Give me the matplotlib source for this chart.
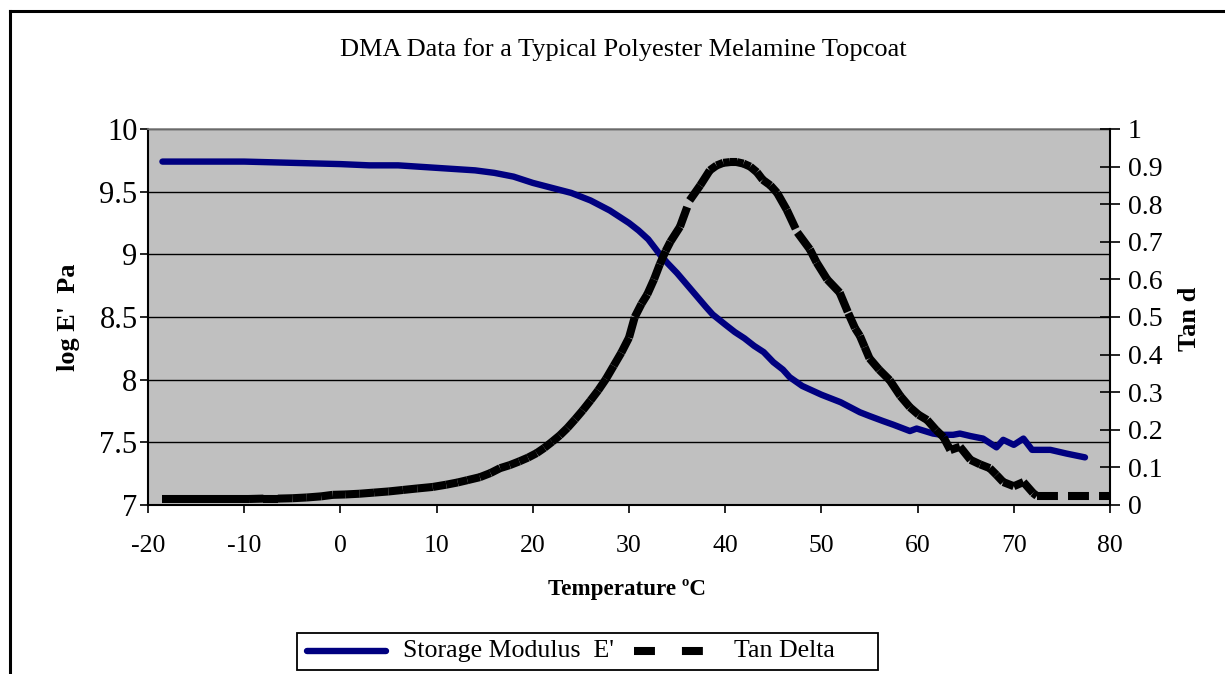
import matplotlib
matplotlib.use("Agg")
import matplotlib.pyplot as plt
from matplotlib.collections import LineCollection
from matplotlib.lines import Line2D
from matplotlib.patches import Rectangle
import numpy as np

plt.rcParams['font.family'] = ['Liberation Serif', 'DejaVu Serif']
plt.rcParams['axes.unicode_minus'] = False

# ---- data ----
temp_E = [-18.5, -14, -10, -5, 0, 3, 6, 8, 10, 12, 14, 16, 18, 20, 22, 24, 25, 26, 27, 28,
          29, 30, 31, 32, 33.2, 34, 35, 36, 37, 38, 38.7, 40, 41, 42, 43, 44, 45, 46, 46.7,
          48, 50, 51, 52, 53, 54, 55, 56.4, 57.5, 59.2, 59.9, 61.6, 62.5, 63.7, 64.4, 65.5,
          66.8, 68.2, 68.9, 70, 71, 71.9, 73, 73.8, 75.5, 77.4]
storage_E = [9.74, 9.74, 9.74, 9.73, 9.72, 9.71, 9.71, 9.70, 9.69, 9.68, 9.67, 9.65, 9.62,
             9.57, 9.53, 9.49, 9.46, 9.43, 9.39, 9.35, 9.30, 9.25, 9.19, 9.12, 9.0, 8.93,
             8.85, 8.76, 8.67, 8.58, 8.52, 8.44, 8.38, 8.33, 8.27, 8.22, 8.14, 8.08, 8.02,
             7.95, 7.88, 7.85, 7.82, 7.78, 7.74, 7.71, 7.67, 7.64, 7.59, 7.61, 7.57, 7.56,
             7.56, 7.57, 7.55, 7.53, 7.46, 7.52, 7.48, 7.53, 7.44, 7.44, 7.44, 7.41, 7.38]

temp_tan = [-18.5, -17, -15.5, -14, -12.5, -11, -9.5, -8, -6.5, -5, -3.5, -2, -0.8, 0.5, 2,
            3.5, 5, 6.5, 8, 9.6, 11, 12.2, 13.2, 14.5, 15.6, 16.6, 17.6, 18.6, 19.5, 20.4,
            21.2, 22, 22.8, 23.6, 24.4, 25.2, 26, 26.8, 27.6, 28.4, 29.2, 30, 30.6, 31.3,
            31.9, 32.6, 33.2, 33.8, 34.3, 35.3, 36.3, 37.4, 38.4, 39.1, 39.8, 40.5, 41.2,
            41.9, 42.6, 43.3, 43.9, 44.7, 45.4, 46.4, 47.5, 48.8, 49.5, 50.6, 51.9, 52.8,
            53.5, 54, 54.5, 55, 56, 57.1, 58.2, 59.2, 60.1, 61, 61.9, 62.7, 63.4, 64.4,
            65.5, 66.5, 67.5, 68.2, 68.9, 70, 71, 72, 72.4, 80]
tan_delta = [0.016, 0.016, 0.016, 0.016, 0.016, 0.016, 0.016, 0.017, 0.017, 0.018, 0.020,
             0.023, 0.027, 0.028, 0.030, 0.033, 0.036, 0.040, 0.044, 0.048, 0.054, 0.060,
             0.066, 0.074, 0.085, 0.098, 0.106, 0.116, 0.126, 0.138, 0.152, 0.168, 0.185,
             0.205, 0.228, 0.252, 0.278, 0.305, 0.335, 0.37, 0.405, 0.445, 0.50, 0.535,
             0.56, 0.60, 0.64, 0.675, 0.70, 0.74, 0.81, 0.85, 0.89, 0.903, 0.91, 0.912,
             0.912, 0.908, 0.90, 0.885, 0.865, 0.85, 0.83, 0.785, 0.725, 0.68, 0.645, 0.60,
             0.565, 0.51, 0.47, 0.45, 0.42, 0.39, 0.36, 0.332, 0.29, 0.26, 0.24, 0.226,
             0.20, 0.18, 0.146, 0.155, 0.12, 0.108, 0.098, 0.08, 0.061, 0.05, 0.061, 0.032,
             0.024, 0.024]

x_ticks = [-20, -10, 0, 10, 20, 30, 40, 50, 60, 70, 80]
y_left_ticks = [7, 7.5, 8, 8.5, 9, 9.5, 10]
y_left_labels = ['7', '7.5', '8', '8.5', '9', '9.5', '10']
y_right_ticks = [0, 0.1, 0.2, 0.3, 0.4, 0.5, 0.6, 0.7, 0.8, 0.9, 1]
y_right_labels = ['0', '0.1', '0.2', '0.3', '0.4', '0.5', '0.6', '0.7', '0.8', '0.9', '1']

title = "DMA Data for a Typical Polyester Melamine Topcoat"
xlabel = "Temperature ºC"
ylabel_left = "log E'  Pa"
ylabel_right = "Tan d"
label_E = "Storage Modulus  E'"
label_tan = "Tan Delta"

# ---- figure ----
W, H = 1225, 674
fig = plt.figure(figsize=(W/100, H/100), dpi=100)
fig.patch.set_facecolor('white')


def fx(px):
    return px / W


def fy(py):
    return 1 - py / H


ax = fig.add_axes([fx(148), fy(505), (1110-148)/W, (505-129)/H])
ax.set_facecolor('#C0C0C0')

navy = '#000080'
ax.plot(temp_E, storage_E, color=navy, lw=4.6, solid_capstyle='round',
        solid_joinstyle='round', zorder=3)
ax.set_xlim(-20, 80)
ax.set_ylim(7, 10)
ax.set_xticks(x_ticks)
ax.set_yticks(y_left_ticks)
ax.set_yticklabels(y_left_labels)
ax.grid(axis='y', color='black', lw=1.0)
ax.set_axisbelow(True)
ax.tick_params(axis='x', labelsize=18.5, direction='out', length=5.5, width=1.2, pad=16)
ax.tick_params(axis='y', labelsize=22, direction='out', length=5.5, width=1.2, pad=2)
for s in ['left', 'bottom']:
    ax.spines[s].set_linewidth(1.5)
ax.spines['top'].set_color('#808080')
ax.spines['top'].set_linewidth(1.2)
ax.spines['right'].set_visible(False)

ax2 = ax.twinx()
ax2.set_ylim(0, 1)
ax2.set_yticks(y_right_ticks)
ax2.set_yticklabels(y_right_labels)
ax2.tick_params(axis='y', labelsize=20, direction='inout', length=14, width=1.2, pad=6)
ax2.spines['right'].set_linewidth(1.5)
for s in ['left', 'top', 'bottom']:
    ax2.spines[s].set_visible(False)

pts = np.column_stack([temp_tan, tan_delta])
segs = [pts[i:i+2] for i in range(len(pts)-1)]
lc = LineCollection(segs, colors='black', linewidths=5.8,
                    linestyles=[(0, (2.6, 1.25))], capstyle='butt', zorder=4)
ax2.add_collection(lc)

# labels
fig.text(fx(623), fy(50), title, ha='center', va='center', fontsize=19)
fig.text(fx(627), fy(590), xlabel, ha='center', va='center', fontsize=16.6,
         fontweight='bold')
fig.text(fx(68), fy(317), ylabel_left, ha='center', va='center', fontsize=18.9,
         fontweight='bold', rotation=90)
fig.text(fx(1190), fy(319), ylabel_right, ha='center', va='center', fontsize=18.9,
         fontweight='bold', rotation=90)

# legend (drawn as a boxed key)
fig.add_artist(Rectangle((fx(297), fy(670)), (878-297)/W, (670-633)/H,
                         transform=fig.transFigure, facecolor='white',
                         edgecolor='black', lw=1.3, zorder=5))
ly = fy(651)
fig.add_artist(Line2D([fx(307), fx(386)], [ly, ly], transform=fig.transFigure,
                      color=navy, lw=4.6, solid_capstyle='round', zorder=6))
fig.text(fx(403), ly, label_E, ha='left', va='center', fontsize=18.6, zorder=6)
fig.add_artist(Line2D([fx(634), fx(703)], [ly, ly], transform=fig.transFigure,
                      color='black', lw=5.8, linestyle=(0, (2.6, 3.35)),
                      dash_capstyle='butt', zorder=6))
fig.text(fx(734), ly, label_tan, ha='left', va='center', fontsize=18.6, zorder=6)

# outer frame (top and left visible)
fig.add_artist(Line2D([fx(10), 1.0], [fy(11), fy(11)], transform=fig.transFigure,
                      color='black', lw=2.2))
fig.add_artist(Line2D([fx(10), fx(10)], [0.0, fy(11)], transform=fig.transFigure,
                      color='black', lw=2.2))

fig.savefig('out.png', dpi=100)
